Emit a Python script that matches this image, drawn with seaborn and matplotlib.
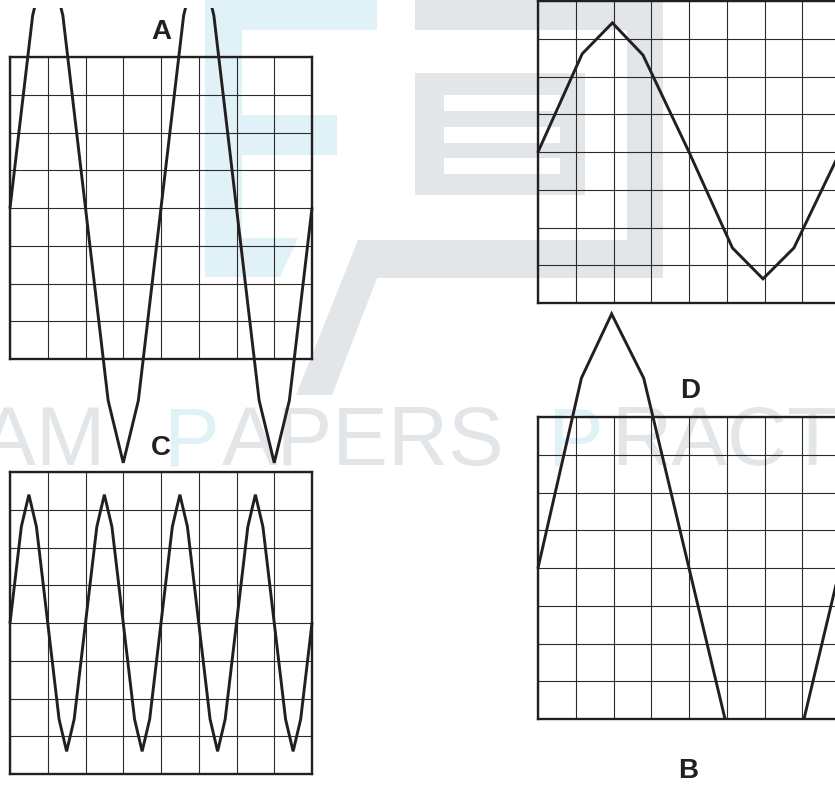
import pandas as pd
import seaborn as sns
import matplotlib.pyplot as plt
from matplotlib.patches import Polygon, Rectangle

# Waveform vertices read off the screens, in grid divisions
# (x: 0..8 across the screen, y: -4..4 from bottom to top of the grid)
a_x = [0, 0.6, 1, 1.4, 2, 2.6, 3, 3.4, 4, 4.6, 5, 5.4, 6, 6.6, 7, 7.4, 8]
a_y = [0, 5.1, 6.75, 5.1, 0, -5.1, -6.75, -5.1, 0, 5.1, 6.75, 5.1, 0, -5.1, -6.75, -5.1, 0]

b_x = [0, 1.17, 1.97, 2.78, 4, 5.15, 5.96, 6.78, 8]
b_y = [0, 2.6, 3.42, 2.57, 0, -2.54, -3.36, -2.54, 0]

c_x = [0, 0.3, 0.5, 0.7, 1, 1.3, 1.5, 1.7, 2, 2.3, 2.5, 2.7, 3, 3.3, 3.5, 3.7,
       4, 4.3, 4.5, 4.7, 5, 5.3, 5.5, 5.7, 6, 6.3, 6.5, 6.7, 7, 7.3, 7.5, 7.7, 8]
c_y = [0, 2.55, 3.4, 2.55, 0, -2.55, -3.4, -2.55, 0, 2.55, 3.4, 2.55, 0, -2.55, -3.4, -2.55,
       0, 2.55, 3.4, 2.55, 0, -2.55, -3.4, -2.55, 0, 2.55, 3.4, 2.55, 0, -2.55, -3.4, -2.55, 0]

d_x = [0, 1.15, 1.95, 2.8, 4, 5.2, 6, 6.8, 8]
d_y = [0, 5.03, 6.73, 5.03, 0, -5.03, -6.73, -5.03, 0]

panel_names = ["A", "B", "C", "D"]

sns.set_style("white")
plt.rcParams["font.family"] = ["Liberation Sans", "DejaVu Sans"]

W, H = 835, 785
INK = "#231f20"
WM_GREY = "#e3e6e9"
WM_BLUE = "#e0f1f8"

fig = plt.figure(figsize=(W / 100, H / 100), dpi=100)

# background layer in pixel coordinates (watermark + panel letters)
bg = fig.add_axes([0, 0, 1, 1], zorder=0)
bg.set_xlim(0, W)
bg.set_ylim(H, 0)
bg.axis("off")

# faint logo watermark
bg.add_patch(Polygon([(205, 0), (377, 0), (377, 30), (242, 30), (242, 115), (337, 115),
                      (337, 155), (242, 155), (242, 238), (298, 238), (280, 277), (205, 277)],
                     closed=True, color=WM_BLUE, lw=0))
bg.add_patch(Polygon([(415, 0), (663, 0), (663, 278), (377, 278), (332, 395), (296, 395),
                      (358, 240), (627, 240), (627, 30), (415, 30)],
                     closed=True, color=WM_GREY, lw=0))
bg.add_patch(Rectangle((415, 73), 170, 122, color=WM_GREY, lw=0))
for y0 in [95, 127, 158]:
    bg.add_patch(Rectangle((444, y0), 116, 16, color="white", lw=0))

# watermark text
wm = dict(fontsize=60, va="baseline", ha="left")
bg.text(106, 465, "EXAM", color=WM_GREY, **{**wm, "ha": "right"})
bg.text(163, 465, "P", color=WM_BLUE, **wm)
bg.text(222, 465, "APERS", color=WM_GREY, **wm)
bg.text(547, 465, "P", color=WM_BLUE, **wm)
bg.text(611, 465, "RACTICE", color=WM_GREY, **wm)

# panel letters
label_pos = {"A": (161, 39), "B": (688, 778), "C": (161, 455), "D": (690, 398)}
for name in panel_names:
    lx, ly = label_pos[name]
    bg.text(lx, ly, name, fontsize=20, fontweight="bold", color=INK,
            ha="center", va="baseline")


def draw_screen(left, top, xs, ys, clip_y0, clip_y1, size=302):
    ax = fig.add_axes([left / W, 1 - (top + size) / H, size / W, size / H], zorder=2)
    ax.set_facecolor("none")
    df = pd.DataFrame({"x": xs, "y": ys})
    sns.lineplot(data=df, x="x", y="y", ax=ax, sort=False, estimator=None,
                 color=INK, lw=2.1)
    line = ax.lines[-1]
    line.set_solid_joinstyle("miter")
    line.set_clip_path(Rectangle((-0.05, clip_y0), 1.1, clip_y1 - clip_y0,
                                 transform=ax.transAxes))
    ax.set_xlim(0, 8)
    ax.set_ylim(-4, 4)
    ax.set_xticks(range(9))
    ax.set_yticks(range(-4, 5))
    ax.tick_params(length=0, labelbottom=False, labelleft=False)
    ax.set_xlabel("")
    ax.set_ylabel("")
    ax.grid(True, color="#2b2b2b", lw=0.8)
    ax.set_axisbelow(True)
    for s in ax.spines.values():
        s.set_visible(True)
        s.set_color(INK)
        s.set_linewidth(1.7)
    return ax


# A: large amplitude, runs past the grid top and bottom
draw_screen(10, 57, a_x, a_y, -1.2, (359 - 8) / 302)
# B: top right
draw_screen(538, 1, b_x, b_y, -0.1, 1.1)
# C: high frequency
draw_screen(10, 472, c_x, c_y, -0.1, 1.1)
# D: large amplitude, cut at the grid bottom
draw_screen(538, 417, d_x, d_y, 0, 2.5)

fig.savefig("out.png", dpi=100)
